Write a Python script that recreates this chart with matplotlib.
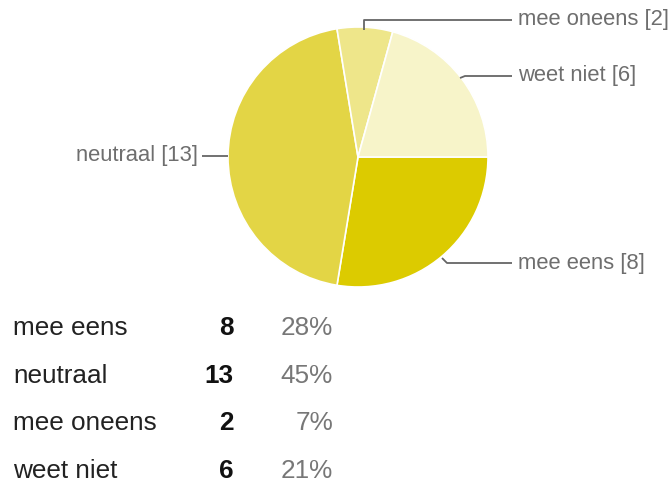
import matplotlib.pyplot as plt

# answers and counts, in pie order (clockwise from 3 o'clock)
labels = ["mee eens", "neutraal", "mee oneens", "weet niet"]
counts = [8, 13, 2, 6]
colors = ["#DCCB00", "#E3D545", "#EEE68A", "#F7F4C9"]

W, H = 671, 483
fig = plt.figure(figsize=(W / 100, H / 100), dpi=100)
ax = fig.add_axes([0, 0, 1, 1])
ax.set_xlim(0, W)
ax.set_ylim(H, 0)
ax.set_aspect("equal")
ax.axis("off")

plt.rcParams["font.family"] = ["Liberation Sans", "DejaVu Sans"]

cx, cy, r = 358, 157, 130
wedges, _ = ax.pie(counts, colors=colors, startangle=0, counterclock=True,
                   center=(cx, cy), radius=r,
                   wedgeprops=dict(edgecolor="white", linewidth=1.2))
ax.set_xlim(0, W)
ax.set_ylim(H, 0)

line_col = "#666666"
lab_col = "#6e6e6e"
fs_lab = 15.8

# leader lines (paths) and label anchors
leaders = {
    "mee oneens": ([364, 364, 512], [30, 20, 20], (518, 20, "left")),
    "weet niet": ([460, 465, 512], [78, 76, 76], (518, 76, "left")),
    "neutraal": ([228, 202], [156, 156], (198, 156, "right")),
    "mee eens": ([442, 447, 512], [258, 263, 263], (518, 263, "left")),
}
for lab, n in zip(labels, counts):
    xs, ys, (tx, ty, ha) = leaders[lab]
    ax.plot(xs, ys, color=line_col, lw=1.3, solid_capstyle="butt")
    ax.text(tx, ty, f"{lab} [{n}]", ha=ha, va="center", fontsize=fs_lab,
            color=lab_col)

# summary table below the pie
total = sum(counts)
row_y = [335, 383, 430, 478]
fs_tab = 18.8
for lab, n, y in zip(labels, counts, row_y):
    ax.text(13, y, lab, ha="left", va="baseline", fontsize=fs_tab, color="#222222")
    ax.text(234, y, str(n), ha="right", va="baseline", fontsize=fs_tab,
            fontweight="bold", color="#111111")
    ax.text(333, y, f"{round(100 * n / total)}%", ha="right", va="baseline",
            fontsize=fs_tab, color="#777777")

fig.savefig("out.png", dpi=100)
